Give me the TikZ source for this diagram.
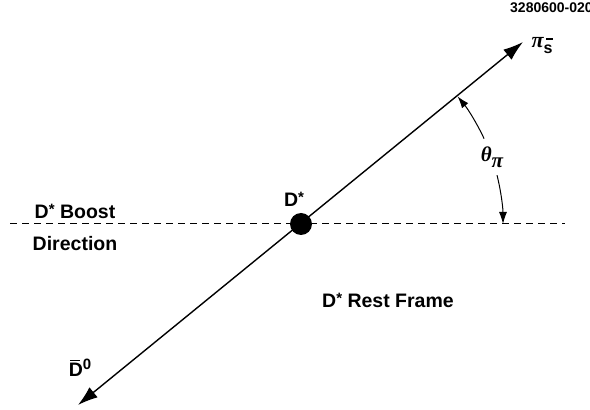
\documentclass[tikz,border=0pt]{standalone}
\usepackage{fontspec}
\setmainfont{Liberation Sans}
\newfontfamily\greekfont{Liberation Serif}
\usetikzlibrary{positioning}
\usetikzlibrary{arrows.meta}

\newcommand{\starsup}{\raisebox{4pt}{\fontsize{15}{15}\selectfont *}}
\newcommand{\grk}[1]{{\greekfont\bfseries\itshape #1}}

\tikzset{
  lbl/.style={font=\fontsize{19.5}{21}\selectfont\bfseries, inner sep=0pt},
  track/.style={line width=1.4pt, {Latex[length=20pt,width=13pt]}-{Latex[length=20pt,width=13pt]}},
  axis/.style={line width=1pt, dash pattern=on 7pt off 5pt},
  anglearrow/.style={line width=1pt, -{Latex[length=12pt,width=8pt]}}
}

\begin{document}
\begin{tikzpicture}[x=1pt, y=1pt]
    \useasboundingbox (0,0) rectangle (590,410);
    % frame and track
    \coordinate (dstar) at (301,186);
    \coordinate (pitip) at (523,368);
    \coordinate (dbartip) at (78,5);
    \coordinate (axisleft) at (10,186);
    \coordinate (axisright) at (565,186);
    \draw[axis] (axisleft) -- (axisright);
    \draw[track] (dbartip) -- (pitip);
    \node[circle, fill=black, minimum size=22pt, inner sep=0pt] (dot) at (dstar) {};
    % angle
    \draw[anglearrow] (dstar) ++(25:202) arc[start angle=25, end angle=39.2, radius=202];
    \draw[anglearrow] (dstar) ++(14:202) arc[start angle=14, end angle=0, radius=202];
    % labels
    \node[lbl, font=\fontsize{14}{15}\selectfont\bfseries, anchor=west] (code) at (510,402) {3280600-020};
    \node[lbl] (pilbl) at (542,364) {{\fontsize{22}{22}\selectfont\grk{π}}\raisebox{-6pt}{\fontsize{16}{16}\selectfont\rlap{\raisebox{14pt}{\,\rule{7pt}{1.8pt}}}s}};
    \node[lbl] (dstarlbl) at (294,211) {D\starsup};
    \node[lbl] (boost) at (75,199) {D\starsup{} Boost};
    \node[lbl] (direction) at (75,166) {Direction};
    \node[lbl] (rest) at (388,110) {D\starsup{} Rest Frame};
    \node[lbl] (dbar) at (80,42) {\rlap{\raisebox{15.5pt}{\kern1.5pt\rule{10pt}{1.5pt}}}D\raisebox{7pt}{\fontsize{15}{15}\selectfont 0}};
    \node[lbl, font=\fontsize{21}{22}\selectfont] (theta) at (492,253) {\grk{θ}\raisebox{-6pt}{\grk{π}}};
\end{tikzpicture}
\end{document}
